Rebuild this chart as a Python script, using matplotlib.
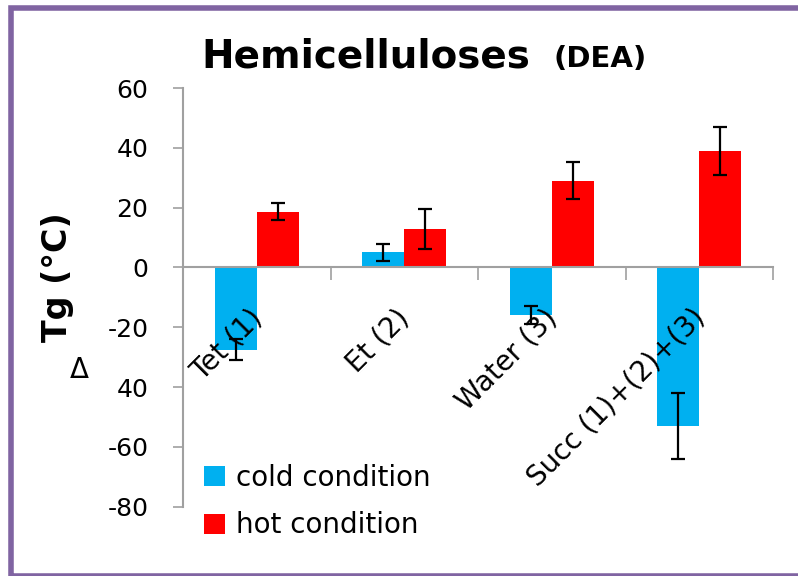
import matplotlib
matplotlib.use("Agg")
import matplotlib.pyplot as plt
import numpy as np
from matplotlib.patches import Rectangle

categories = ["Tet (1)", "Et (2)", "Water (3)", "Succ (1)+(2)+(3)"]
cold = [-27.5, 5.0, -15.8, -53.0]
cold_err = [3.5, 2.7, 3.0, 10.9]
hot = [18.7, 12.9, 29.0, 39.0]
hot_err = [2.7, 6.8, 6.1, 8.0]
yticks = [-80, -60, -40, -20, 0, 20, 40, 60]
ytick_labels = ["-80", "-60", "40", "-20", "0", "20", "40", "60"]
series_labels = ["cold condition", "hot condition"]

W, H = 798, 576
fig = plt.figure(figsize=(W / 100, H / 100), dpi=100)
plt.rcParams['font.family'] = ['DejaVu Sans']

# purple frame
fig.patches.append(Rectangle((10.5 / W, 0.0), 1.0, (H - 8) / H,
                             transform=fig.transFigure, fill=False,
                             edgecolor="#8064A2", linewidth=4, zorder=0))

ax = fig.add_axes([183 / W, 1 - 506.7 / H, (773 - 183) / W, (506.7 - 88) / H])
x = np.arange(len(categories))
w = 0.285
ekw = dict(ecolor="black", elinewidth=1.6, capsize=5, capthick=1.6)
ax.bar(x - w / 2, cold, w, color="#00B0F0", yerr=cold_err, error_kw=ekw,
       label=series_labels[0], zorder=2)
ax.bar(x + w / 2, hot, w, color="#FF0000", yerr=hot_err, error_kw=ekw,
       label=series_labels[1], zorder=2)

ax.set_xlim(-0.5, len(categories) - 0.5)
ax.set_ylim(-80, 60)
ax.set_yticks(yticks)
ax.set_yticklabels(ytick_labels, fontsize=18)
ax.tick_params(axis="y", length=7, width=1.2, color="#A0A0A0", pad=18)

ax.spines["top"].set_visible(False)
ax.spines["right"].set_visible(False)
ax.spines["left"].set_color("#A0A0A0")
ax.spines["left"].set_linewidth(1.5)
ax.spines["bottom"].set_position(("data", 0))
ax.spines["bottom"].set_color("#A0A0A0")
ax.spines["bottom"].set_linewidth(1.5)
ax.set_xticks(np.arange(-0.5, len(categories), 1.0))
ax.set_xticklabels([])
ax.tick_params(axis="x", direction="out", length=9, width=1.2, color="#A0A0A0")

for i, lab in enumerate(categories):
    ax.annotate(lab, xy=(i, 0), xycoords="data", xytext=(8, -26),
                textcoords="offset points", rotation=45, ha="right", va="top",
                fontsize=20, zorder=3)

# title
fig.text(530 / W, 1 - 67 / H, "Hemicelluloses", fontsize=28, fontweight="bold",
         ha="right", va="baseline")
fig.text(553 / W, 1 - 67 / H, "(DEA)", fontsize=21, fontweight="bold",
         ha="left", va="baseline")

# y label
fig.text(57 / W, 1 - 277 / H, "Tg (°C)", fontsize=24, fontweight="bold",
         rotation=90, ha="center", va="center")
fig.text(79 / W, 1 - 370 / H, "Δ", fontsize=20, ha="center", va="center")

leg = fig.legend(loc="upper left", bbox_to_anchor=(204 / W, 1 - 464 / H),
                 frameon=False, fontsize=20, handlelength=0.75, handleheight=0.75,
                 handletextpad=0.4, labelspacing=0.7, borderpad=0, borderaxespad=0)

fig.savefig("out.png", dpi=100)
